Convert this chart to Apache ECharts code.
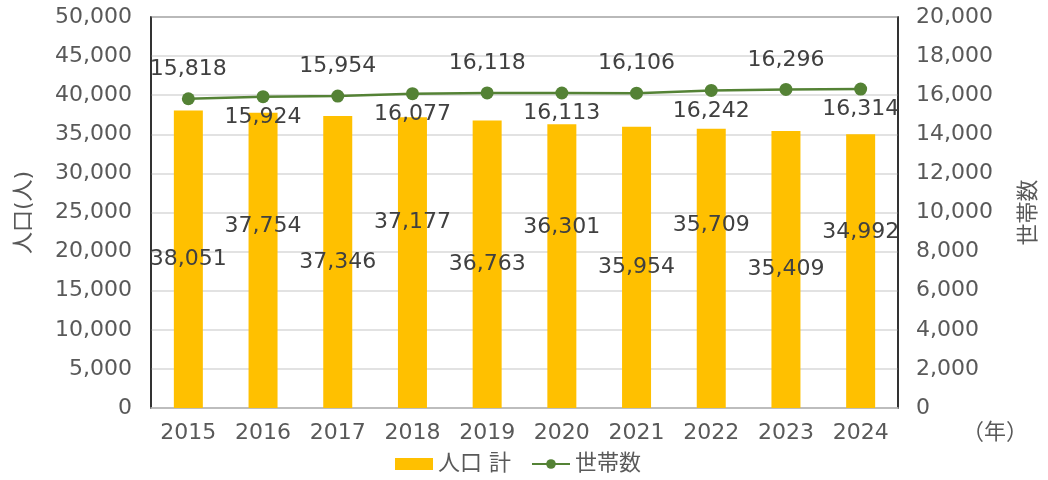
<!DOCTYPE html>
<html>
<head>
<meta charset="utf-8">
<script src="https://cdn.jsdelivr.net/npm/echarts@6/dist/echarts.min.js"></script>
<style>
  html, body { margin: 0; padding: 0; background: #fff; }
  #chart { width: 1048px; height: 480px; }
</style>
</head>
<body>
<div id="chart"></div>
<script>
  // categories (years)
  var years = ['2015', '2016', '2017', '2018', '2019', '2020', '2021', '2022', '2023', '2024']
  // population total
  var population = [38051, 37754, 37346, 37177, 36763, 36301, 35954, 35709, 35409, 34992]
  // households
  var households = [15818, 15924, 15954, 16077, 16118, 16113, 16106, 16242, 16296, 16314]

  // label placement tweaks (style only)
  var barLabelShift = [0, -34, 0, -40, 0, -39, 0, -43, 0, -39]
  var lineLabelPos = ['top', 'bottom', 'top', 'bottom', 'top', 'bottom', 'top', 'bottom', 'top', 'bottom']

  var textColor = '#595959'
  var labelColor = '#404040'
  var fontFamily = '"DejaVu Sans", "Noto Sans CJK JP", sans-serif'
  var fontSize = 22

  var chart = echarts.init(document.getElementById('chart'))

  var barData = population.map(function (v, i) {
    return { value: v, label: { offset: [0, barLabelShift[i]] } }
  })
  var lineData = households.map(function (v, i) {
    return { value: v, label: { position: lineLabelPos[i], distance: lineLabelPos[i] === 'top' ? 12 : 3 } }
  })

  function fmt (v) { return v.toLocaleString('en-US') }

  chart.setOption({
    animation: false,
    textStyle: { fontFamily: fontFamily, color: textColor },
    grid: {
      left: 151,
      right: 146,
      top: 17,
      bottom: 72,
      show: true,
      borderColor: '#262626',
      borderWidth: 1.5
    },
    legend: {
      bottom: 0,
      left: 390,
      itemGap: 20,
      itemWidth: 38,
      itemHeight: 12,
      textStyle: { color: textColor, fontSize: fontSize, fontFamily: fontFamily },
      data: [
        { name: '人口 計', icon: 'rect', itemStyle: { color: '#FFC000' } },
        { name: '世帯数' }
      ]
    },
    xAxis: {
      type: 'category',
      data: years,
      axisTick: { show: false },
      axisLine: { lineStyle: { color: '#bfbfbf', width: 1.5 } },
      axisLabel: { color: textColor, fontSize: fontSize, margin: 14 }
    },
    yAxis: [
      {
        type: 'value',
        min: 0,
        max: 50000,
        interval: 5000,
        name: '人口(人)',
        nameLocation: 'middle',
        nameGap: 116,
        nameRotate: 90,
        nameTextStyle: { color: textColor, fontSize: fontSize },
        axisLine: { show: true, lineStyle: { color: '#262626', width: 1.5 } },
        axisLabel: { color: textColor, fontSize: fontSize, margin: 19, formatter: fmt },
        splitLine: { lineStyle: { color: '#d9d9d9', width: 1.5 } }
      },
      {
        type: 'value',
        min: 0,
        max: 20000,
        interval: 2000,
        name: '世帯数',
        nameLocation: 'middle',
        nameGap: 120,
        nameRotate: 90,
        nameTextStyle: { color: textColor, fontSize: fontSize },
        axisLine: { show: true, lineStyle: { color: '#262626', width: 1.5 } },
        axisLabel: { color: textColor, fontSize: fontSize, margin: 18, formatter: fmt },
        splitLine: { show: false }
      }
    ],
    graphic: [
      {
        type: 'text',
        left: 962,
        top: 420,
        style: { text: '（年）', fill: textColor, font: fontSize + 'px "Noto Sans CJK JP", sans-serif' }
      }
    ],
    series: [
      {
        name: '人口 計',
        type: 'bar',
        yAxisIndex: 0,
        barWidth: 29,
        itemStyle: { color: '#FFC000' },
        label: {
          show: true,
          position: 'inside',
          color: labelColor,
          fontSize: fontSize,
          formatter: function (p) { return fmt(p.value) }
        },
        data: barData,
        z: 2
      },
      {
        name: '世帯数',
        type: 'line',
        yAxisIndex: 1,
        symbol: 'circle',
        symbolSize: 13,
        lineStyle: { color: '#548235', width: 2.5 },
        itemStyle: { color: '#548235' },
        label: {
          show: true,
          color: labelColor,
          fontSize: fontSize,
          formatter: function (p) { return fmt(p.value) }
        },
        data: lineData,
        z: 3
      }
    ]
  })
</script>
</body>
</html>
